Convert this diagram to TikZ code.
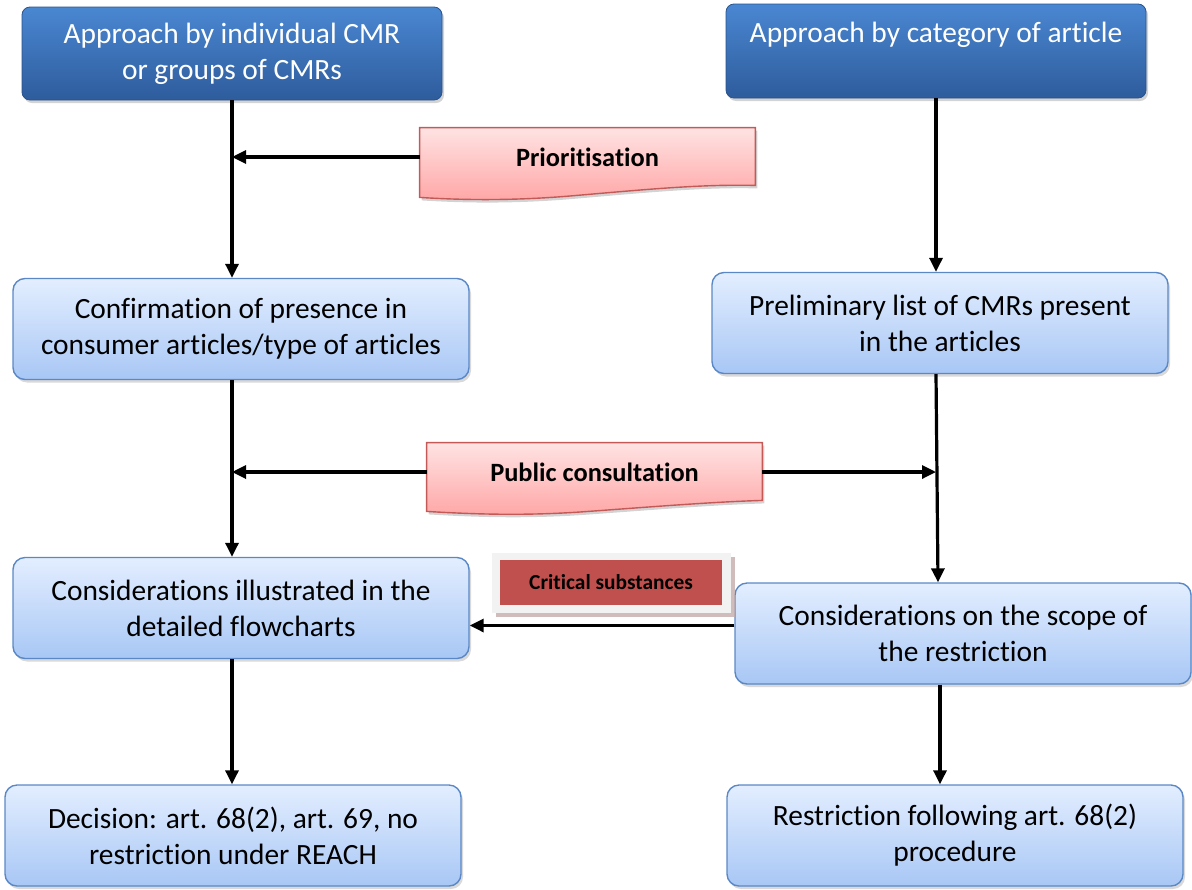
\documentclass[tikz,border=0pt]{standalone}
\usepackage{fontspec}
\setmainfont{Carlito}[Ligatures=NoCommon]
\usetikzlibrary{shadows,calc,arrows.meta}
\definecolor{dkbtop}{HTML}{4A87D2}
\definecolor{dkbbot}{HTML}{2E5C9C}
\definecolor{ltbtop}{HTML}{E3EEFF}
\definecolor{ltbbot}{HTML}{A8C7F5}
\definecolor{ltbdraw}{HTML}{5A88C6}
\definecolor{pktop}{HTML}{FFE3E3}
\definecolor{pkbot}{HTML}{FFA6A6}
\definecolor{pkdraw}{HTML}{C45A57}
\definecolor{critred}{HTML}{C0504D}
\definecolor{critgray}{HTML}{F2F2F2}
\begin{document}
\begin{tikzpicture}[x=0.5pt,y=-0.5pt,
  every node/.style={font=\fontsize{14.7pt}{18pt}\selectfont},
  darkbox/.style={rounded corners=4pt, top color=dkbtop, bottom color=dkbbot, draw=dkbbot!90!black, line width=0.4pt,
    text=white, align=center, minimum width=210pt, drop shadow={opacity=0.35,shadow xshift=1pt,shadow yshift=-1.5pt}},
  lightbox/.style={rounded corners=6pt, top color=ltbtop, bottom color=ltbbot, draw=ltbdraw, line width=0.7pt,
    align=center, minimum width=228pt, minimum height=50.5pt, inner sep=2pt,
    drop shadow={opacity=0.3,shadow xshift=1pt,shadow yshift=-1.5pt}},
  doctext/.style={font=\fontsize{13.2pt}{15pt}\selectfont\bfseries, minimum width=167.5pt, minimum height=29pt, inner sep=0pt},
  docshape/.style={top color=pktop, bottom color=pkbot, draw=pkdraw, line width=0.7pt,
    drop shadow={opacity=0.35,shadow xshift=1pt,shadow yshift=-1.5pt}},
  arr/.style={line width=1.6pt, -{Triangle[length=7pt,width=6.5pt]}}
]
\useasboundingbox (0,0) rectangle (1192,889);

% top boxes
\node[darkbox, minimum height=46.5pt] (tl) at (232,53.5) {Approach by individual CMR\\or groups of CMRs};
\node[darkbox, text height=19pt, text depth=28pt, inner ysep=0pt] (tr) at (936,51) {Approach by category of article};

% document shapes
\node[doctext] (pri) at (587.5,157) {};
\draw[docshape] (pri.north west) -- (pri.north east) -- ($(pri.south east)+(0,-1)$)
  .. controls (700,184) and (640,190) .. (570,196)
  .. controls (510,201) and (460,200) .. ($(pri.south west)+(0,11)$) -- cycle;
\node[doctext] at (pri) {Prioritisation};

\node[doctext] (pc) at (594.5,472) {};
\draw[docshape] (pc.north west) -- (pc.north east) -- ($(pc.south east)+(0,-1)$)
  .. controls (710,502) and (650,507) .. (580,512)
  .. controls (520,516) and (470,514) .. ($(pc.south west)+(0,10)$) -- cycle;
\node[doctext] at (pc) {Public consultation};

% light boxes
\node[lightbox] (conf) at (241,329) {Confirmation of presence in\\consumer articles/type of articles};
\node[lightbox] (pl) at (940,323) {Preliminary list of CMRs present\\in the articles};
\node[lightbox] (ci) at (241,608) {Considerations illustrated in the\\detailed flowcharts};
\node[lightbox] (cs) at (963,633.5) {Considerations on the scope of\\the restriction};
\node[lightbox] (dec) at (233,835.5) {Decision: art. 68(2), art. 69, no\\restriction under REACH};
\node[lightbox] (rf) at (955,835.5) {Restriction following art. 68(2)\\procedure};

% critical substances
\node[fill=critgray, minimum width=119.5pt, minimum height=30pt, inner sep=0pt,
  drop shadow={fill=black!45!critred!40, opacity=0.8, shadow xshift=2pt, shadow yshift=-2pt}] (critbg) at (611.5,583) {};
\node[fill=critred, minimum width=111pt, minimum height=22.5pt, inner sep=0pt,
  font=\fontsize{10.7pt}{12pt}\selectfont\bfseries] (crit) at (611,582.5) {Critical substances};

% connectors
\draw[arr] (tl.south) -- (conf.north -| tl.south);
\draw[arr] (pri.west) -- (pri.west -| tl.south);
\draw[arr] (tr.south) -- (pl.north -| tr.south);
\draw[arr] (conf.south -| tl.south) -- (ci.north -| tl.south);
\draw[arr] (pc.west) -- (pc.west -| tl.south);
\draw[arr] (pc.east) -- ($(pc.east -| pl.south)+(-4,0)$);
\draw[arr] ($(pl.south)+(-4,0)$) -- ($(cs.north -| pl.south)+(-2,0)$);
\draw[arr] ($(cs.west)+(0,-8)$) -- ($(ci.east |- cs.west)+(0,-8)$);
\draw[arr] (ci.south -| tl.south) -- (dec.north -| tl.south);
\draw[arr] (cs.south -| pl.south) -- (rf.north -| pl.south);
\end{tikzpicture}
\end{document}
